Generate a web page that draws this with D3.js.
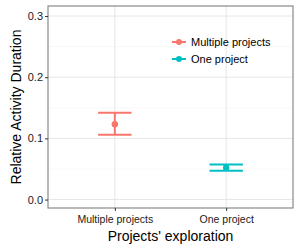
<!DOCTYPE html>
<html>
<head>
<meta charset="utf-8">
<script src="https://cdn.jsdelivr.net/npm/d3@7"></script>
<style>
  body { margin: 0; background: #fff; }
  text { font-family: "Liberation Sans", Arial, sans-serif; }
</style>
</head>
<body>
<div id="chart"></div>
<script>
const categories = ["Multiple projects", "One project"];
const means = [0.123, 0.052];
const lower = [0.106, 0.047];
const upper = [0.142, 0.0575];
const colors = ["#F8766D", "#00BFC4"];
const yTicks = [0.0, 0.1, 0.2, 0.3];
const yMinor = [0.05, 0.15, 0.25];

const width = 300, height = 250;
const margin = {top: 6, right: 7, bottom: 42, left: 48};
const w = width - margin.left - margin.right, h = height - margin.top - margin.bottom;

const svg = d3.select("#chart").append("svg")
    .attr("width", width).attr("height", height);
const g = svg.append("g").attr("transform", `translate(${margin.left},${margin.top})`);

let y = d3.scaleLinear().domain([-0.0138, 0.3164]).range([h, 0]);
// discrete axis, categories at 1 and 2, with 0.6 expansion on each side
let x = d3.scaleLinear().domain([0.4, 2.6]).range([0, w]);
const xpos = function(i) { return x(i + 1); };
const unit = x(1) - x(0);

// minor grid
g.selectAll(".minor").data(yMinor).enter().append("line")
    .attr("x1", 0).attr("x2", w)
    .attr("y1", d => y(d)).attr("y2", d => y(d))
    .attr("stroke", "#f4f4f4").attr("stroke-width", 0.6);
// major grid
g.selectAll(".gy").data(yTicks).enter().append("line")
    .attr("x1", 0).attr("x2", w)
    .attr("y1", d => y(d)).attr("y2", d => y(d))
    .attr("stroke", "#e6e6e6").attr("stroke-width", 1);
g.selectAll(".gx").data(categories).enter().append("line")
    .attr("x1", (d, i) => xpos(i)).attr("x2", (d, i) => xpos(i))
    .attr("y1", 0).attr("y2", h)
    .attr("stroke", "#e6e6e6").attr("stroke-width", 1);

// error bars
const eb = g.selectAll(".eb").data(categories).enter().append("g");
eb.append("line")
    .attr("x1", (d, i) => xpos(i)).attr("x2", (d, i) => xpos(i))
    .attr("y1", (d, i) => y(lower[i])).attr("y2", (d, i) => y(upper[i]))
    .attr("stroke", (d, i) => colors[i]).attr("stroke-width", 2);
eb.append("line")
    .attr("x1", (d, i) => xpos(i) - unit * 0.15).attr("x2", (d, i) => xpos(i) + unit * 0.15)
    .attr("y1", (d, i) => y(upper[i])).attr("y2", (d, i) => y(upper[i]))
    .attr("stroke", (d, i) => colors[i]).attr("stroke-width", 2);
eb.append("line")
    .attr("x1", (d, i) => xpos(i) - unit * 0.15).attr("x2", (d, i) => xpos(i) + unit * 0.15)
    .attr("y1", (d, i) => y(lower[i])).attr("y2", (d, i) => y(lower[i]))
    .attr("stroke", (d, i) => colors[i]).attr("stroke-width", 2);
eb.append("circle")
    .attr("cx", (d, i) => xpos(i)).attr("cy", (d, i) => y(means[i]))
    .attr("r", 3.2).attr("fill", (d, i) => colors[i]);

// panel border
g.append("rect").attr("x", 0).attr("y", 0).attr("width", w).attr("height", h)
    .attr("fill", "none").attr("stroke", "#7f7f7f").attr("stroke-width", 1.1);

// y axis
const yAxis = g.append("g").call(d3.axisLeft(y).tickValues(yTicks).tickFormat(d3.format(".1f")).tickSize(3).tickPadding(2));
yAxis.select(".domain").remove();
yAxis.selectAll(".tick line").attr("stroke", "#333");
yAxis.selectAll("text").attr("fill", "#1a1a1a").style("font-size", "11px");

// x axis
const xAxis = g.append("g").attr("transform", `translate(0,${h})`)
    .call(d3.axisBottom(x).tickValues([1, 2]).tickFormat(d => categories[d - 1]).tickSize(3).tickPadding(5));
xAxis.select(".domain").remove();
xAxis.selectAll(".tick line").attr("stroke", "#333");
xAxis.selectAll("text").attr("fill", "#1a1a1a").style("font-size", "10.5px");

// titles
svg.append("text")
    .attr("transform", `translate(${margin.left + w / 2}, 241)`)
    .style("text-anchor", "middle").style("font-size", "14px").attr("fill", "#000")
    .text("Projects' exploration");
svg.append("text")
    .attr("transform", `translate(21, ${margin.top + h / 2}) rotate(-90)`)
    .style("text-anchor", "middle").style("font-size", "14px").attr("fill", "#000")
    .text("Relative Activity Duration");

// legend
const legend = svg.append("g").attr("transform", "translate(172, 42)");
const items = legend.selectAll("g").data(categories).enter().append("g")
    .attr("transform", (d, i) => `translate(0, ${i * 17})`);
items.append("line").attr("x1", 0).attr("x2", 14).attr("y1", 0).attr("y2", 0)
    .attr("stroke", (d, i) => colors[i]).attr("stroke-width", 2);
items.append("circle").attr("cx", 7).attr("cy", 0).attr("r", 3)
    .attr("fill", (d, i) => colors[i]);
items.append("text").attr("x", 19).attr("y", 4)
    .style("font-size", "11px").attr("fill", "#000")
    .text(d => d);
</script>
</body>
</html>
